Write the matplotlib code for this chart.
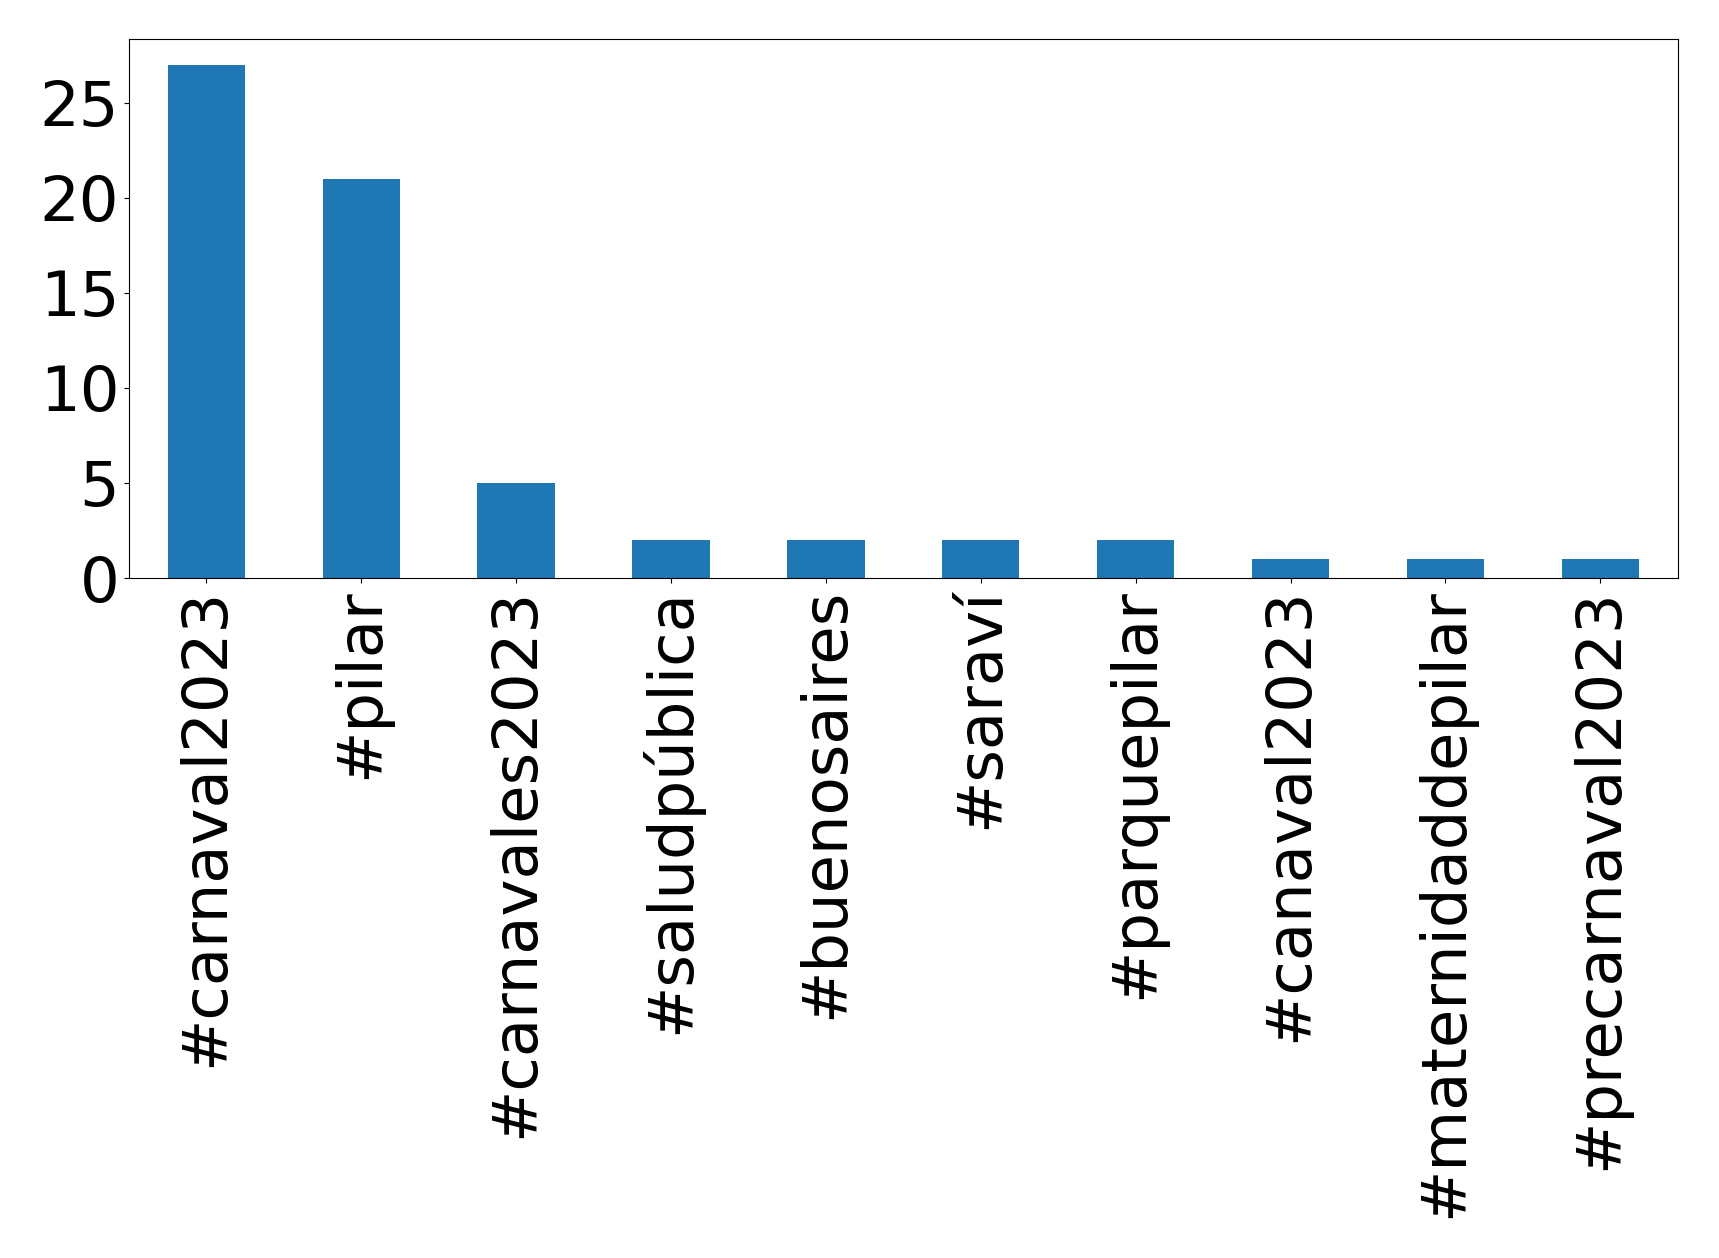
import matplotlib
matplotlib.use("Agg")
import matplotlib.pyplot as plt

hashtags = ["#carnaval2023", "#pilar", "#carnavales2023", "#saludpública", "#buenosaires",
            "#saraví", "#parquepilar", "#canaval2023", "#maternidaddepilar", "#precarnaval2023"]
counts = [27, 21, 5, 2, 2, 2, 2, 1, 1, 1]
yticks = [0, 5, 10, 15, 20, 25]

fig = plt.figure(figsize=(17.19, 12.58), dpi=100)
ax = fig.add_axes([0.075, 0.5405, 0.901, 0.4285])

x = range(len(hashtags))
ax.bar(x, counts, width=0.5, color="#1f77b4")
ax.set_xlim(-0.5, len(hashtags) - 0.5)
ax.set_xticks(list(x))
ax.set_xticklabels(hashtags, rotation=90)
ax.set_yticks(yticks)
ax.tick_params(axis="both", labelsize=45)

fig.savefig("out.png", dpi=100)
